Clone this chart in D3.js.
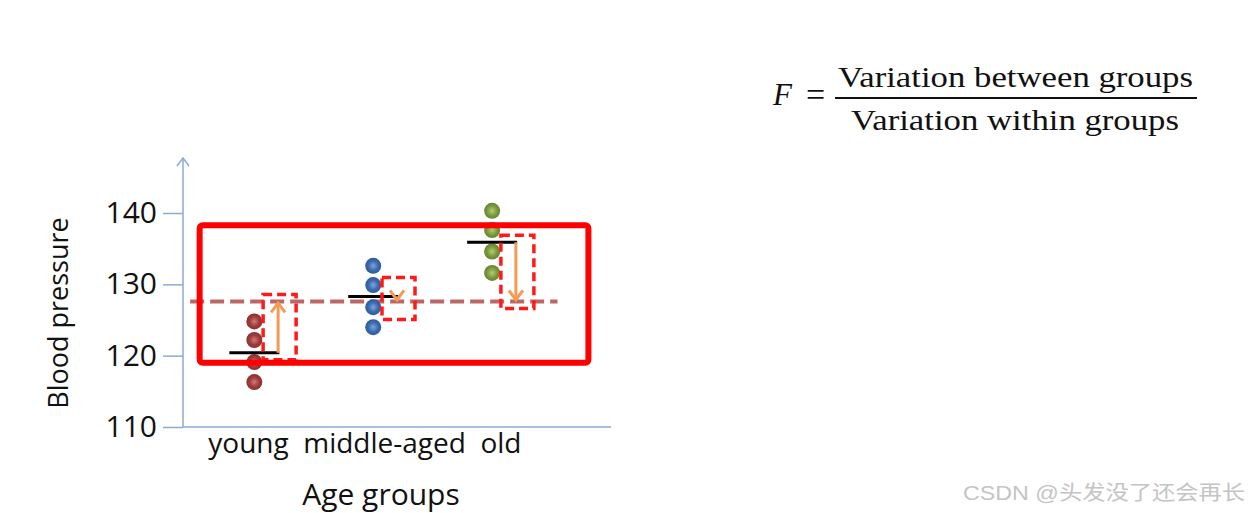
<!DOCTYPE html>
<html>
<head>
<meta charset="utf-8">
<script src="https://cdn.jsdelivr.net/npm/d3@7"></script>
<style>
  html, body { margin: 0; padding: 0; background: #fff; }
  svg { display: block; }
</style>
</head>
<body>
<div id="chart"></div>
<script>
// --- data ---
const groups = ["young", "middle-aged", "old"];
const youngValues = [124.8, 122.2, 119.1, 116.3];
const middleValues = [132.6, 129.9, 126.8, 124.0];
const oldValues = [140.3, 137.6, 134.6, 131.6];
const groupMeans = [120.4, 128.3, 135.9];
const grandMean = 127.6;
const yTicks = [110, 120, 130, 140];
const highlightRange = [119.0, 138.3];   // big red box, in blood pressure units
const highlightGroups = [-0.46, 2.81];   // big red box, in group index units
const grandLineGroups = [-0.54, 2.55];
const dotColors = ["#a23b3b", "#3a6bb0", "#7b9b3c"];
const dotLights = ["#d07a78", "#7fa6dc", "#b5cc7a"];

const width = 1256, height = 513;

const svg = d3.select("#chart").append("svg")
  .attr("width", width)
  .attr("height", height);

const x = d3.scaleLinear().domain([-0.6, 3.0]).range([183, 611]);
const y = d3.scaleLinear().domain([110, 140]).range([427, 213]);
const axisColor = "#8eaad6";

// gradients for the dots
const defs = svg.append("defs");
dotColors.forEach((c, i) => {
  const g = defs.append("radialGradient")
    .attr("id", "dot" + i)
    .attr("cx", "50%").attr("cy", "50%").attr("r", "50%");
  g.append("stop").attr("offset", "0%").attr("stop-color", dotLights[i]);
  g.append("stop").attr("offset", "60%").attr("stop-color", c);
  g.append("stop").attr("offset", "100%").attr("stop-color", d3.color(c).darker(0.5));
});

// axes
const yAxis = d3.axisLeft(y).tickValues(yTicks).tickSize(20).tickPadding(6);
const gy = svg.append("g")
  .attr("transform", `translate(${x(-0.6)},0)`)
  .call(yAxis);
gy.select(".domain").remove();
gy.selectAll(".tick line").attr("stroke", axisColor).attr("stroke-width", 1.5);
gy.selectAll(".tick text")
  .attr("font-family", "'Open Sans', sans-serif")
  .attr("font-size", 30)
  .attr("fill", "#111");

// y axis line with open arrow head
svg.append("line")
  .attr("x1", x(-0.6)).attr("x2", x(-0.6))
  .attr("y1", y(110)).attr("y2", y(147.7))
  .attr("stroke", axisColor).attr("stroke-width", 1.5);
svg.append("path")
  .attr("d", d3.line()([[x(-0.6) - 6, y(147.7) + 8], [x(-0.6), y(147.7)], [x(-0.6) + 6, y(147.7) + 8]]))
  .attr("fill", "none").attr("stroke", axisColor).attr("stroke-width", 1.5);

// x axis line
svg.append("line")
  .attr("x1", x(-0.6)).attr("x2", x(3.0))
  .attr("y1", y(110)).attr("y2", y(110))
  .attr("stroke", axisColor).attr("stroke-width", 1.5);

// category labels
svg.append("text")
  .attr("x", x(0.93))
  .attr("y", 453)
  .attr("text-anchor", "middle")
  .attr("font-family", "'Open Sans', sans-serif")
  .attr("font-size", 28)
  .attr("fill", "#111")
  .style("white-space", "pre")
  .text(groups.join("  "));

svg.append("text")
  .attr("x", 381)
  .attr("y", 505)
  .attr("text-anchor", "middle")
  .attr("font-family", "'Open Sans', sans-serif")
  .attr("font-size", 30)
  .attr("fill", "#111")
  .text("Age groups");

svg.append("text")
  .attr("transform", "translate(68,313) rotate(-90)")
  .attr("text-anchor", "middle")
  .attr("font-family", "'Open Sans', sans-serif")
  .attr("font-size", 27)
  .attr("fill", "#111")
  .text("Blood pressure");

// grand mean dashed line
svg.append("line")
  .attr("x1", x(grandLineGroups[0])).attr("x2", x(grandLineGroups[1]))
  .attr("y1", y(grandMean)).attr("y2", y(grandMean))
  .attr("stroke", "#b55757").attr("stroke-opacity", 0.9)
  .attr("stroke-width", 4)
  .attr("stroke-dasharray", "14,6");

// dots
const allGroups = [youngValues, middleValues, oldValues];
allGroups.forEach((vals, i) => {
  svg.append("g").selectAll("circle")
    .data(vals)
    .enter().append("circle")
    .attr("cx", x(i))
    .attr("cy", d => y(d))
    .attr("r", 8)
    .attr("fill", `url(#dot${i})`);
});

// group means
svg.append("g").selectAll("line")
  .data(groupMeans)
  .enter().append("line")
  .attr("x1", (d, i) => x(i) - 25)
  .attr("x2", (d, i) => x(i) + 25)
  .attr("y1", d => y(d)).attr("y2", d => y(d))
  .attr("stroke", "#000").attr("stroke-width", 3);

// orange arrows from group mean to grand mean
const arrowColor = "#f59a55";
groupMeans.forEach((m, i) => {
  const ax = x(i + 0.2);
  const y0 = y(m), y1 = y(grandMean);
  const dir = y1 < y0 ? 1 : -1;   // 1: pointing up
  svg.append("line")
    .attr("x1", ax).attr("x2", ax)
    .attr("y1", y0).attr("y2", y1 + dir * 1.5)
    .attr("stroke", arrowColor).attr("stroke-width", 3);
  svg.append("path")
    .attr("d", d3.line()([[ax - 7, y1 + dir * 11], [ax, y1 + dir * 1.5], [ax + 7, y1 + dir * 11]]))
    .attr("fill", "none").attr("stroke", arrowColor).attr("stroke-width", 3);

  // dashed box around each arrow
  let top = Math.min(y0, y1) - 7, bottom = Math.max(y0, y1) + 7;
  if (bottom - top < 42) {
    const c = (top + bottom) / 2 - 0.5;
    top = c - 21; bottom = c + 21;
  }
  svg.append("rect")
    .attr("x", ax - 15).attr("y", top)
    .attr("width", 33).attr("height", bottom - top)
    .attr("fill", "none")
    .attr("stroke", "#ff1a1a").attr("stroke-width", 3.5)
    .attr("stroke-dasharray", "9,5");
});

// big red highlight box
svg.append("rect")
  .attr("x", x(highlightGroups[0]))
  .attr("y", y(highlightRange[1]))
  .attr("width", x(highlightGroups[1]) - x(highlightGroups[0]))
  .attr("height", y(highlightRange[0]) - y(highlightRange[1]))
  .attr("rx", 3)
  .attr("fill", "none")
  .attr("stroke", "#ff0000")
  .attr("stroke-width", 6);

// formula
const serif = "'Liberation Serif', 'Times New Roman', serif";
svg.append("text")
  .attr("x", 773).attr("y", 105)
  .attr("font-family", serif).attr("font-style", "italic")
  .attr("font-size", 31).attr("fill", "#111")
  .text("F");
svg.append("text")
  .attr("x", 806).attr("y", 106)
  .attr("font-family", serif)
  .attr("font-size", 34).attr("fill", "#111")
  .text("=");
svg.append("text")
  .attr("x", 838).attr("y", 87)
  .attr("font-family", serif)
  .attr("font-size", 30).attr("fill", "#111")
  .attr("textLength", 355).attr("lengthAdjust", "spacingAndGlyphs")
  .text("Variation between groups");
svg.append("line")
  .attr("x1", 835).attr("x2", 1197)
  .attr("y1", 98).attr("y2", 98)
  .attr("stroke", "#111").attr("stroke-width", 1.8);
svg.append("text")
  .attr("x", 851).attr("y", 130)
  .attr("font-family", serif)
  .attr("font-size", 30).attr("fill", "#111")
  .attr("textLength", 328).attr("lengthAdjust", "spacingAndGlyphs")
  .text("Variation within groups");

// watermark
svg.append("text")
  .attr("x", 963).attr("y", 500)
  .attr("font-family", "'Liberation Sans', 'Noto Sans CJK SC', sans-serif")
  .attr("font-size", 20).attr("fill", "#c4c4c4")
  .attr("textLength", 282).attr("lengthAdjust", "spacingAndGlyphs")
  .text("CSDN @头发没了还会再长");
</script>
</body>
</html>
